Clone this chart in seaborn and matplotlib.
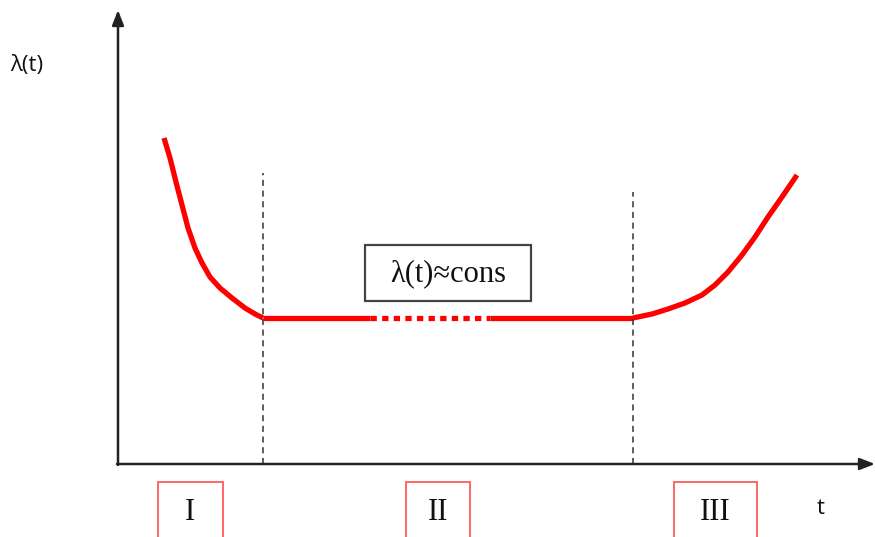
import matplotlib.pyplot as plt
import matplotlib.patches as mpatches
import pandas as pd
import seaborn as sns

# bathtub curve, values (t along the time axis, lam = failure rate)
t_early = [46, 52, 58, 64, 70, 77, 84, 92, 102, 114, 127, 137, 145]
lam_early = [326, 306, 282, 259, 236, 216, 201, 187, 176, 166, 156, 150, 146]

t_flat = [145, 252]
t_flat_dotted = [252, 372]
t_flat_end = [372, 515]
lam_flat = [146, 146]

t_wear = [515, 534, 550, 567, 584, 597, 610, 624, 637, 650, 664, 679]
lam_wear = [146, 150, 155, 161, 169, 179, 192, 209, 227, 247, 267, 289]

# period borders (dashed) and their heights
border_t = [145, 515]
border_top = [291, 272]

period_labels = ["I", "II", "III"]
period_left = [40, 288, 556]
period_right = [105, 352, 639]

sns.set_style("white")
plt.rcParams["font.family"] = ["Open Sans", "DejaVu Sans"]

fig = plt.figure(figsize=(8.75, 5.37), dpi=100)
ax = fig.add_axes([0, 0, 1, 1])
ax.set_xlim(-118, 757)
ax.set_ylim(-73, 464)
ax.axis("off")

red = "#ff0000"
lw_curve = 3.8
curve_kw = dict(color=red, lw=lw_curve, ax=ax, sort=False,
                solid_capstyle="butt", solid_joinstyle="round")

sns.lineplot(x=t_early, y=lam_early, **curve_kw)
sns.lineplot(x=t_flat, y=lam_flat, **curve_kw)
dotted = pd.DataFrame({"t": t_flat_dotted, "lam": lam_flat})
ax.plot(dotted["t"], dotted["lam"], color=red, lw=lw_curve, linestyle=(0, (1.2, 1.0)))
sns.lineplot(x=t_flat_end, y=lam_flat, **curve_kw)
sns.lineplot(x=t_wear, y=lam_wear, **curve_kw)

for bt, top in zip(border_t, border_top):
    ax.plot([bt, bt], [0, top], color="#333333", lw=1.1, linestyle=(0, (4, 3)))

# axes with arrow heads
arrow = dict(arrowstyle="-|>,head_length=0.9,head_width=0.35", color="#222222", lw=1.8,
             shrinkA=0, shrinkB=0)
ax.annotate("", xy=(0, 454), xytext=(0, -1), arrowprops=arrow)
ax.annotate("", xy=(757, 0), xytext=(-1, 0), arrowprops=arrow)

ax.text(-108, 399, "λ(t)", fontsize=16, ha="left", va="center", color="#111111")
ax.text(703, -45, "t", fontsize=16, ha="center", va="center", color="#111111")

# box in the middle
ax.add_patch(mpatches.Rectangle((247, 163), 166, 56, fill=False, ec="#444444", lw=1.6))
ax.text(330, 190, "λ(t)≈cons", fontsize=22, family=["Liberation Serif", "DejaVu Serif"],
        ha="center", va="center", color="#111111")

for lab, left, right in zip(period_labels, period_left, period_right):
    ax.add_patch(mpatches.Rectangle((left, -100), right - left, 82, fill=False,
                                    ec="#ff5a5a", lw=1.3, clip_on=True))
    ax.text((left + right) / 2, -48, lab, fontsize=22,
            family=["Liberation Serif", "DejaVu Serif"], ha="center", va="center",
            color="#111111")

fig.savefig("out.png", dpi=100, facecolor="white")
